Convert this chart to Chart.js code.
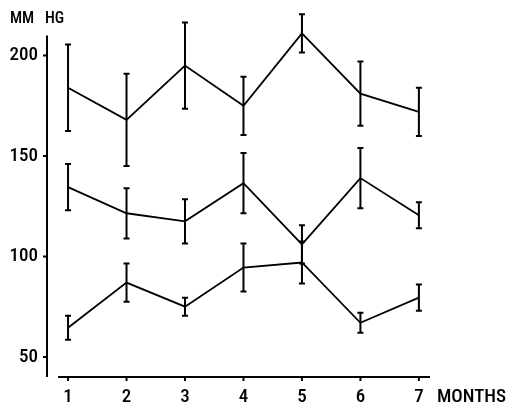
<!DOCTYPE html>
<html>
<head>
<meta charset="utf-8">
<script src="https://cdn.jsdelivr.net/npm/chart.js@4/dist/chart.umd.min.js"></script>
<style>
  body { margin: 0; background: #fff; }
</style>
</head>
<body>
<canvas id="myChart" width="506" height="405"></canvas>
<script>
const months = [1, 2, 3, 4, 5, 6, 7];
const yTicks = [50, 100, 150, 200];

// three groups, mean and +/- spread
const topMean = [184, 168, 195, 175, 211, 181, 172];
const topErr = [21.5, 23, 21.5, 14.5, 9.5, 16, 12];
const midMean = [134.5, 121.5, 117.5, 136.5, 106, 139, 120.5];
const midErr = [11.5, 12.5, 11, 15, 9.5, 15, 6.5];
const lowMean = [64.5, 87, 75, 94.5, 97, 67, 79.5];
const lowErr = [6, 9.5, 4.5, 12, 10.5, 5, 6.5];

const fontName = "'Roboto Condensed', 'DejaVu Sans Condensed', sans-serif";

function toPoints(means)
{
	return months.map((m, i) => ({ x: m, y: means[i] }));
}

function makeSet(label, means, errs)
{
	return {
		label: label,
		data: toPoints(means),
		err: errs,
		fill: false,
		borderColor: '#000',
		borderWidth: 1.8,
		tension: 0,
		pointRadius: 0,
		clip: false
	};
}

// error bars, axes and the two axis captions
const extras = {
	id: 'extras',
	afterDatasetsDraw(chart) {
		const ctx = chart.ctx;
		const xs = chart.scales.x;
		const ys = chart.scales.y;
		const area = chart.chartArea;
		ctx.save();
		ctx.strokeStyle = '#000';
		ctx.lineWidth = 2;

		chart.data.datasets.forEach(ds => {
			ds.data.forEach((p, i) => {
				const px = xs.getPixelForValue(p.x);
				const top = ys.getPixelForValue(p.y + ds.err[i]);
				const bot = ys.getPixelForValue(p.y - ds.err[i]);
				ctx.beginPath();
				ctx.moveTo(px, top);
				ctx.lineTo(px, bot);
				ctx.moveTo(px - 3, top);
				ctx.lineTo(px + 3, top);
				ctx.moveTo(px - 3, bot);
				ctx.lineTo(px + 3, bot);
				ctx.stroke();
			});
		});

		// y axis
		const ax = area.left;
		ctx.beginPath();
		ctx.moveTo(ax, ys.getPixelForValue(40));
		ctx.lineTo(ax, ys.getPixelForValue(210));
		yTicks.forEach(t => {
			const py = ys.getPixelForValue(t);
			ctx.moveTo(ax - 4, py);
			ctx.lineTo(ax, py);
		});
		ctx.stroke();

		// x axis
		const ay = area.bottom;
		ctx.beginPath();
		ctx.moveTo(xs.getPixelForValue(0.83), ay);
		ctx.lineTo(xs.getPixelForValue(7.19), ay);
		months.forEach(m => {
			const px = xs.getPixelForValue(m);
			ctx.moveTo(px, ay);
			ctx.lineTo(px, ay + 4);
		});
		ctx.stroke();

		ctx.fillStyle = '#000';
		ctx.textBaseline = 'alphabetic';
		ctx.font = '500 16px ' + fontName;
		ctx.fillText('MM', 10, 23);
		ctx.fillText('HG', 45, 23);
		ctx.font = '500 19px ' + fontName;
		ctx.fillText('MONTHS', xs.getPixelForValue(7) + 18, ay + 25);
		ctx.restore();
	}
};

let chart = new Chart('myChart', {
	type: 'line',
	data: {
		datasets: [
			makeSet('Upper', topMean, topErr),
			makeSet('Middle', midMean, midErr),
			makeSet('Lower', lowMean, lowErr)
		]
	},
	plugins: [extras],
	options: {
		responsive: false,
		animation: false,
		devicePixelRatio: 1,
		layout: {
			padding: { top: 5, right: 76, left: 0, bottom: 0 }
		},
		scales: {
			x: {
				type: 'linear',
				min: 0.64,
				max: 7.19,
				afterBuildTicks: s => { s.ticks = months.map(v => ({ value: v })); },
				afterFit: s => { s.height = 28; },
				grid: { display: false, drawTicks: false },
				border: { display: false },
				ticks: {
					color: '#000',
					padding: 9,
					maxRotation: 0,
					font: { family: fontName, size: 19, weight: 500 }
				}
			},
			y: {
				min: 40,
				max: 217.5,
				afterBuildTicks: s => { s.ticks = yTicks.map(v => ({ value: v })); },
				afterFit: s => { s.width = 47; },
				grid: { display: false, drawTicks: false },
				border: { display: false },
				ticks: {
					color: '#000',
					padding: 9,
					font: { family: fontName, size: 19, weight: 500 }
				}
			}
		},
		plugins: {
			legend: { display: false },
			tooltip: { enabled: false },
			title: { display: false }
		}
	}
});
</script>
</body>
</html>
